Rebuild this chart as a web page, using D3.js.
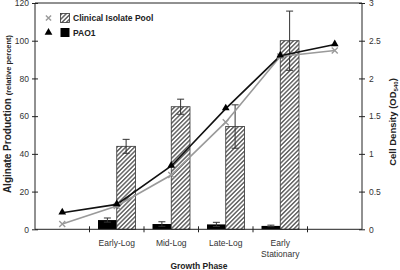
<!DOCTYPE html>
<html>
<head>
<meta charset="utf-8">
<script src="https://cdn.jsdelivr.net/npm/d3@7"></script>
<style>
  body { margin: 0; background: #fff; }
  svg { display: block; font-family: 'Liberation Sans', Arial, sans-serif; }
</style>
</head>
<body>
<div id="svg-container"></div>
<script>
// growth phase slots (first and last slots have no bars)
const slots = ['s0', 'Early-Log', 'Mid-Log', 'Late-Log', 'Early Stationary', 's5']
const phases = ['Early-Log', 'Mid-Log', 'Late-Log', 'Early Stationary']

// alginate production (relative percent)
const clinicalAlginate = [44, 65, 54.5, 100]
const clinicalAlginateErr = [3.7, 4, 11.5, 15.7]
const pao1Alginate = [4.9, 2.8, 2.6, 1.8]
const pao1AlginateErr = [1.1, 1.2, 1.1, 0.4]

// cell density (OD540), one value per slot
const pao1Density = [0.22, 0.33, 0.84, 1.6, 2.3, 2.45]
const clinicalDensity = [0.07, 0.31, 0.72, 1.42, 2.29, 2.37]

const leftTicks = [0, 20, 40, 60, 80, 100, 120]
const rightTicks = [0, 0.5, 1, 1.5, 2, 2.5, 3]

const width = 400
const height = 270
const plotLeft = 35
const plotRight = 362
const plotTop = 3
const plotBottom = 229.3

const svg = d3
  .select('#svg-container')
  .append('svg')
  .attr('width', width)
  .attr('height', height)

const defs = svg.append('defs')
const hatch = defs
  .append('pattern')
  .attr('id', 'hatch')
  .attr('patternUnits', 'userSpaceOnUse')
  .attr('width', 3.1)
  .attr('height', 6)
  .attr('patternTransform', 'rotate(45)')
hatch.append('rect').attr('width', 3.1).attr('height', 6).attr('fill', '#fff')
hatch
  .append('line')
  .attr('x1', 0.75)
  .attr('x2', 0.75)
  .attr('y1', 0)
  .attr('y2', 6)
  .attr('stroke', '#5a5a5a')
  .attr('stroke-width', 1.4)

const xScale = d3.scaleBand().domain(slots).range([plotLeft, plotRight])
const xCenter = s => xScale(s) + xScale.bandwidth() / 2
const barW = xScale.bandwidth() * 0.344

const yLeft = d3.scaleLinear().domain([0, 120]).range([plotBottom, plotTop])
const yRight = d3.scaleLinear().domain([0, 3]).range([plotBottom, plotTop])

// top frame line
svg
  .append('line')
  .attr('x1', plotLeft)
  .attr('x2', plotRight)
  .attr('y1', plotTop)
  .attr('y2', plotTop)
  .attr('stroke', '#222')
  .attr('stroke-width', 1)

// bars
const barData = phases.map((p, i) => ({
  phase: p,
  pao1: pao1Alginate[i],
  pao1Err: pao1AlginateErr[i],
  clin: clinicalAlginate[i],
  clinErr: clinicalAlginateErr[i],
}))

const bars = svg.append('g').attr('class', 'bars')
bars
  .selectAll('rect.pao1')
  .data(barData)
  .join('rect')
  .attr('class', 'pao1')
  .attr('x', d => xCenter(d.phase) - barW)
  .attr('y', d => yLeft(d.pao1))
  .attr('width', barW)
  .attr('height', d => yLeft(0) - yLeft(d.pao1))
  .attr('fill', '#000')

bars
  .selectAll('rect.clin')
  .data(barData)
  .join('rect')
  .attr('class', 'clin')
  .attr('x', d => xCenter(d.phase))
  .attr('y', d => yLeft(d.clin))
  .attr('width', barW)
  .attr('height', d => yLeft(0) - yLeft(d.clin))
  .attr('fill', 'url(#hatch)')
  .attr('stroke', '#333')
  .attr('stroke-width', 0.8)

// error bars
const errData = []
barData.forEach(d => {
  errData.push({ x: xCenter(d.phase) - barW / 2, v: d.pao1, e: d.pao1Err })
  errData.push({ x: xCenter(d.phase) + barW / 2, v: d.clin, e: d.clinErr })
})
const errG = svg
  .append('g')
  .attr('class', 'err')
  .attr('stroke', '#333')
  .attr('stroke-width', 1)
errG
  .selectAll('line.stem')
  .data(errData)
  .join('line')
  .attr('class', 'stem')
  .attr('x1', d => d.x)
  .attr('x2', d => d.x)
  .attr('y1', d => yLeft(d.v - d.e))
  .attr('y2', d => yLeft(d.v + d.e))
errG
  .selectAll('line.cap-top')
  .data(errData)
  .join('line')
  .attr('class', 'cap-top')
  .attr('x1', d => d.x - 3.5)
  .attr('x2', d => d.x + 3.5)
  .attr('y1', d => yLeft(d.v + d.e))
  .attr('y2', d => yLeft(d.v + d.e))
errG
  .selectAll('line.cap-bot')
  .data(errData.filter(d => d.v - d.e > 0.5))
  .join('line')
  .attr('class', 'cap-bot')
  .attr('x1', d => d.x - 3.5)
  .attr('x2', d => d.x + 3.5)
  .attr('y1', d => yLeft(d.v - d.e))
  .attr('y2', d => yLeft(d.v - d.e))

// density lines
const lineGen = d3
  .line()
  .x((d, i) => xCenter(slots[i]))
  .y(d => yRight(d))

svg
  .append('path')
  .attr('d', lineGen(clinicalDensity))
  .attr('fill', 'none')
  .attr('stroke', '#9a9a9a')
  .attr('stroke-width', 1.6)

svg
  .append('path')
  .attr('d', lineGen(pao1Density))
  .attr('fill', 'none')
  .attr('stroke', '#111')
  .attr('stroke-width', 1.6)

const crossPath = s =>
  `M${-s},${-s}L${s},${s}M${-s},${s}L${s},${-s}`

svg
  .append('g')
  .selectAll('path')
  .data(clinicalDensity)
  .join('path')
  .attr('transform', (d, i) => `translate(${xCenter(slots[i])},${yRight(d)})`)
  .attr('d', crossPath(3))
  .attr('stroke', '#9a9a9a')
  .attr('stroke-width', 1.4)
  .attr('fill', 'none')

const triangle = d3.symbol().type(d3.symbolTriangle).size(26)
svg
  .append('g')
  .selectAll('path')
  .data(pao1Density)
  .join('path')
  .attr('transform', (d, i) => `translate(${xCenter(slots[i])},${yRight(d) - 0.5})`)
  .attr('d', triangle())
  .attr('fill', '#000')

// axes
const styleAxis = g => {
  g.selectAll('.domain').attr('stroke', '#222')
  g.selectAll('.tick line').attr('stroke', '#222')
  g.selectAll('.tick text')
    .attr('fill', '#333')
    .style('font-size', '8.5px')
}

svg
  .append('g')
  .attr('transform', `translate(${plotLeft},0)`)
  .call(d3.axisLeft(yLeft).tickValues(leftTicks).tickSize(0).tickPadding(6))
  .call(styleAxis)
  .call(g => {
    g.select('.domain').attr('d', `M0,${plotTop}V${plotBottom}`)
    g.selectAll('.tick line').attr('x1', -3).attr('x2', 3)
  })

svg
  .append('g')
  .attr('transform', `translate(${plotRight},0)`)
  .call(
    d3
      .axisRight(yRight)
      .tickValues(rightTicks)
      .tickFormat(d => String(d))
      .tickSize(0)
      .tickPadding(7),
  )
  .call(styleAxis)
  .call(g => {
    g.select('.domain').attr('d', `M0,${plotTop}V${plotBottom}`)
    g.selectAll('.tick line').attr('x1', -3).attr('x2', 3)
  })

// x axis: ticks at slot boundaries, labels in the middle
const xAxisG = svg.append('g').attr('class', 'x-axis')
xAxisG
  .append('line')
  .attr('x1', plotLeft)
  .attr('x2', plotRight)
  .attr('y1', plotBottom)
  .attr('y2', plotBottom)
  .attr('stroke', '#222')
xAxisG
  .selectAll('line.tick')
  .data(slots.slice(1))
  .join('line')
  .attr('class', 'tick')
  .attr('x1', d => xScale(d))
  .attr('x2', d => xScale(d))
  .attr('y1', plotBottom - 3)
  .attr('y2', plotBottom + 3)
  .attr('stroke', '#222')
xAxisG
  .selectAll('text')
  .data(phases)
  .join('text')
  .attr('x', d => xCenter(d))
  .attr('y', plotBottom + 17)
  .attr('text-anchor', 'middle')
  .attr('fill', '#333')
  .style('font-size', '8.5px')
  .each(function (d) {
    const words = d === 'Early Stationary' ? ['Early', 'Stationary'] : [d]
    d3.select(this)
      .selectAll('tspan')
      .data(words)
      .join('tspan')
      .attr('x', xCenter(d))
      .attr('dy', (w, i) => (i === 0 ? 0 : 10.5))
      .text(w => w)
  })

// axis titles
svg
  .append('text')
  .attr('x', 199)
  .attr('y', 268.5)
  .attr('text-anchor', 'middle')
  .style('font-size', '8.5px')
  .style('font-weight', 'bold')
  .attr('fill', '#222')
  .text('Growth Phase')

const leftTitle = svg
  .append('text')
  .attr('transform', 'translate(11,114) rotate(-90)')
  .attr('text-anchor', 'middle')
  .style('font-weight', 'bold')
  .attr('fill', '#222')
leftTitle.append('tspan').style('font-size', '10px').text('Alginate Production ')
leftTitle.append('tspan').style('font-size', '7.5px').text('(relative percent)')

const rightTitle = svg
  .append('text')
  .attr('transform', 'translate(396,122) rotate(-90)')
  .attr('text-anchor', 'middle')
  .style('font-weight', 'bold')
  .style('font-size', '9.5px')
  .attr('fill', '#222')
rightTitle.append('tspan').text('Cell Density (OD')
rightTitle.append('tspan').style('font-size', '6px').attr('dy', 2).text('540')
rightTitle.append('tspan').attr('dy', -2).text(')')

// legend
const legend = svg.append('g').attr('class', 'legend')
legend
  .append('path')
  .attr('transform', 'translate(48.5,18)')
  .attr('d', crossPath(2.6))
  .attr('stroke', '#9a9a9a')
  .attr('stroke-width', 1.4)
legend
  .append('rect')
  .attr('x', 60.5)
  .attr('y', 13.5)
  .attr('width', 9)
  .attr('height', 9)
  .attr('fill', 'url(#hatch)')
  .attr('stroke', '#333')
  .attr('stroke-width', 0.8)
legend
  .append('path')
  .attr('transform', 'translate(48.5,32.5)')
  .attr('d', triangle())
  .attr('fill', '#000')
legend
  .append('rect')
  .attr('x', 60.5)
  .attr('y', 28)
  .attr('width', 9)
  .attr('height', 9)
  .attr('fill', '#000')
legend
  .selectAll('text')
  .data(['Clinical Isolate Pool', 'PAO1'])
  .join('text')
  .attr('x', 73)
  .attr('y', (d, i) => 21 + i * 14.5)
  .style('font-size', '8.5px')
  .style('font-weight', 'bold')
  .attr('fill', '#222')
  .text(d => d)
</script>
</body>
</html>
